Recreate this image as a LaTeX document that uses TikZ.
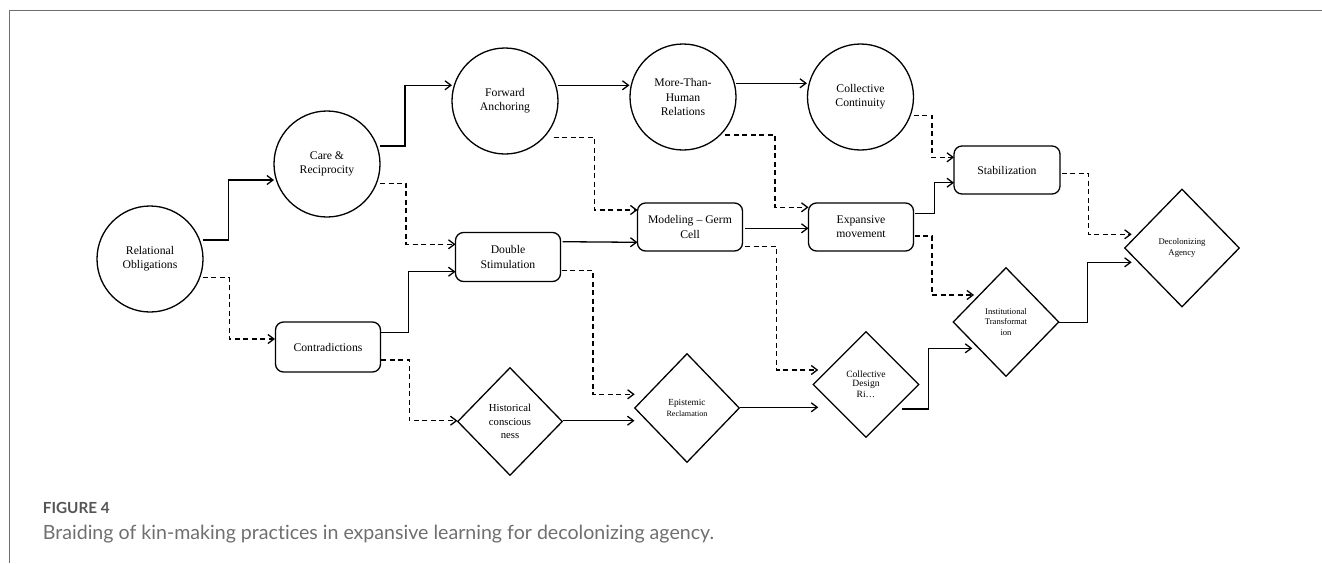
\documentclass[tikz,border=0pt]{standalone}
\usepackage{fontspec}
\setmainfont{Liberation Serif}
\newfontfamily\capfont[Ligatures=NoCommon]{Lato}
\usetikzlibrary{shapes.geometric,arrows.meta,calc}
\definecolor{framegray}{HTML}{6E6E6E}
\definecolor{figgray}{HTML}{555555}
\definecolor{capgray}{HTML}{6F6F6F}
\begin{document}
\begin{tikzpicture}[x=1pt,y=-1pt,
  circ/.style={draw,circle,line width=1.3pt,minimum size=106pt,inner sep=0pt,align=center,font=\fontsize{11.7}{14.3}\selectfont},
  rbox/.style={draw,rounded corners=8pt,line width=1.3pt,minimum width=105pt,minimum height=48pt,inner sep=0pt,align=center,font=\fontsize{11.7}{14.3}\selectfont},
  dia/.style={draw,diamond,aspect=1,line width=1.3pt,inner sep=0pt,align=center},
  sol/.style={line width=1.3pt,-{Straight Barb[length=6pt,width=9pt]}},
  dsh/.style={line width=1.3pt,dash pattern=on 5pt off 3.5pt,-{Straight Barb[length=6pt,width=9pt]}}
]
\useasboundingbox (0,0) rectangle (1322,563);
\draw[framegray,line width=1pt] (9.5,563) -- (9.5,10.3) -- (1322,10.3);

% circles
\node[circ] (rel) at (150,259) {Relational\\Obligations};
\node[circ] (care) at (327,164) {Care \&\\Reciprocity};
\node[circ] (fwd) at (505,101) {Forward\\Anchoring};
\node[circ] (mth) at (683,97) {More-Than-\\Human\\Relations};
\node[circ] (ccont) at (860.5,97) {Collective\\Continuity};
% rounded boxes
\node[rbox,minimum height=50pt] (contr) at (328,347) {Contradictions};
\node[rbox,minimum height=49pt] (ds) at (508,257) {Double\\Stimulation};
\node[rbox] (model) at (690,227) {Modeling -- Germ\\Cell};
\node[rbox] (expm) at (861,227) {Expansive\\movement};
\node[rbox,minimum width=106pt] (stab) at (1007,170) {Stabilization};
% diamonds
\node[dia,minimum width=105pt,minimum height=108pt,font=\fontsize{10.7}{13.3}\selectfont] (hist) at (510,421.5) {Historical\\conscious\\ness};
\node[dia,minimum width=105pt,minimum height=109pt,font=\fontsize{9.3}{10.3}\selectfont] (epis) at (687,408) {Epistemic\\{\fontsize{8.1}{10.3}\selectfont Reclamation}};
\node[dia,minimum width=106pt,minimum height=106pt,font=\fontsize{9.6}{11.2}\selectfont] (cdes) at (866,384.5) {\raisebox{-2.5pt}{\shortstack{Collective\\[-0.5pt]Design\\[-0.5pt]Ri\dots}}};
\node[dia,minimum width=106pt,minimum height=109pt,font=\fontsize{8.6}{10.7}\selectfont] (inst) at (1006,322) {Institutional\\Transformat\\ion};
\node[dia,minimum width=115pt,minimum height=118pt,font=\fontsize{8.7}{10.3}\selectfont] (deco) at (1182,248) {Decolonizing\\Agency};

% solid connectors
\draw[sol] ($(rel)+(52.7,-19)$) -- ++(25.6,0) |- ($(care)+(-53,16)$);
\draw[sol] ($(care)+(53,-18)$) -- ++(25,0) |- ($(fwd)+(-53,-15.7)$);
\draw[sol] ($(fwd)+(53,-15.7)$) -- ($(mth)+(-53.5,-11.7)$);
\draw[sol] ($(mth)+(53,-13.7)$) -- ($(ccont)+(-53.5,-13.7)$);
\draw[sol] ($(contr)+(53,-14.7)$) -- ++(27.3,0) |- ($(ds)+(-52.5,14.7)$);
\draw[sol] ($(ds)+(54.5,-15.3)$) -- ($(model)+(-52.5,15.3)$);
\draw[sol] ($(model)+(55,1.3)$) -- ($(expm)+(-52.5,1.3)$);
\draw[sol] ($(expm)+(53.5,-13.7)$) -- ++(19.7,0) |- ($(stab)+(-53,12.7)$);
\draw[sol] ($(hist)+(52.5,-0.8)$) -- ($(epis)+(-52.5,12.7)$);
\draw[sol] ($(epis)+(53,-0.7)$) -- ($(cdes)+(-47.7,22.8)$);
\draw[sol] ($(cdes)+(36.3,24.5)$) -- ++(26,0) |- ($(inst)+(-33.7,26.3)$);
\draw[sol] ($(inst)+(53.3,0.7)$) -- ++(28,0) |- ($(deco)+(-50.3,14.3)$);

% dashed connectors
\draw[dsh] ($(rel)+(52.7,18.7)$) -- ++(26.6,0) |- ($(contr)+(-53,-8)$);
\draw[dsh] ($(care)+(53,19.3)$) -- ++(26,0) |- ($(ds)+(-52.5,-12.7)$);
\draw[dsh] ($(fwd)+(48.6,36.3)$) -- ++(40.7,0) |- ($(model)+(-52.5,-17)$);
\draw[dsh] ($(mth)+(42,38)$) -- ++(50,0) |- ($(expm)+(-52.5,-19.7)$);
\draw[dsh] ($(ccont)+(53,18.7)$) -- ++(18.4,0) |- ($(stab)+(-53,-12.7)$);
\draw[dsh] ($(ds)+(53.5,13.7)$) -- ++(31.6,0) |- ($(epis)+(-52.3,-13.7)$);
\draw[dsh] ($(model)+(55,19.7)$) -- ++(31.7,0) |- ($(cdes)+(-47.7,-14.5)$);
\draw[dsh] ($(expm)+(53.5,9)$) -- ++(17.4,0) |- ($(inst)+(-32,-27)$);
\draw[dsh] ($(contr)+(53,13)$) -- ++(28.3,0) |- ($(hist)+(-52.5,-0.8)$);
\draw[dsh] ($(stab)+(54.7,3.3)$) -- ++(26.6,0) |- ($(deco)+(-50.3,-13.7)$);

% caption
\node[anchor=base west,inner sep=0pt,text=figgray,font=\capfont\bfseries\fontsize{15.3}{18}\selectfont] (fig) at (42.7,513.3) {FIGURE 4};
\node[anchor=base west,inner sep=0pt,text=capgray,font=\capfont\fontsize{19.6}{22}\selectfont] (cap) at (42.7,539.3) {Braiding of kin-making practices in expansive learning for decolonizing agency.};
\end{tikzpicture}
\end{document}
